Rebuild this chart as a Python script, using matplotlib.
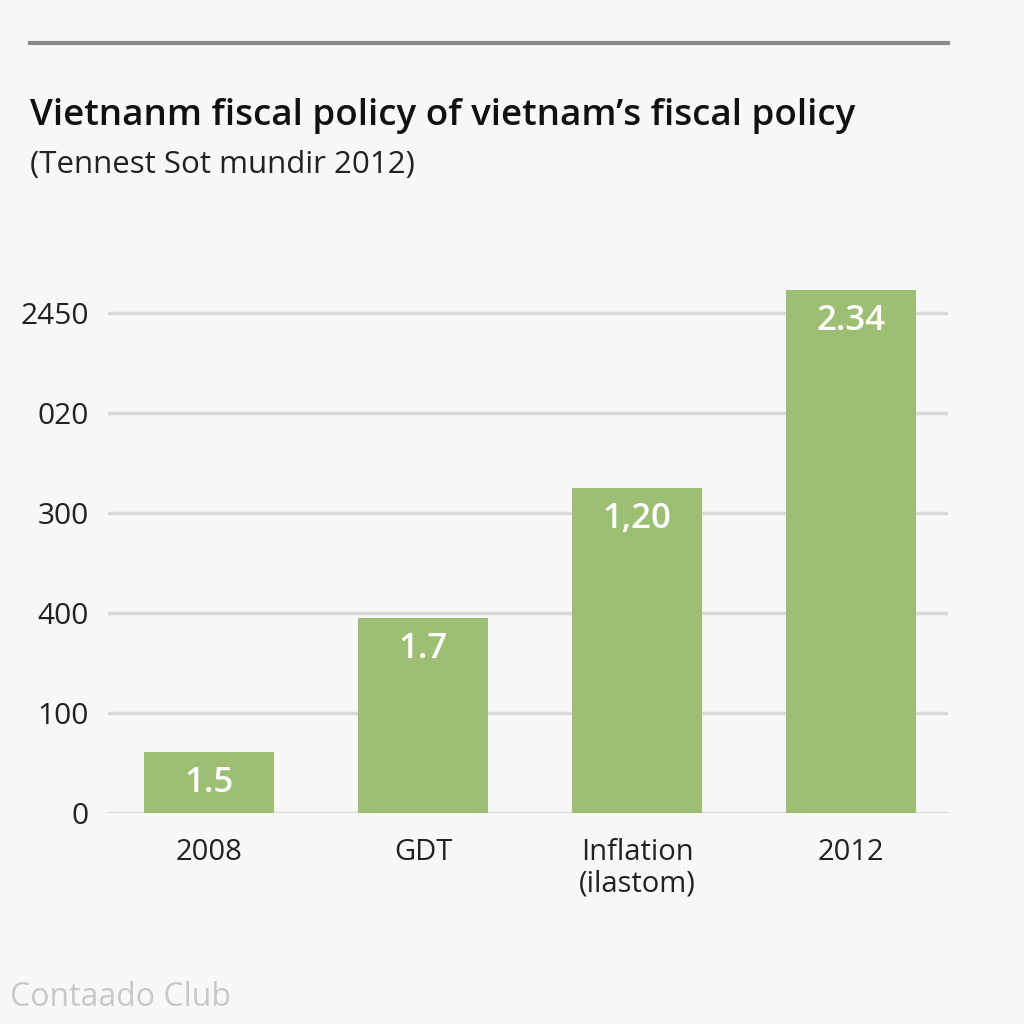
import matplotlib
matplotlib.use("Agg")
import matplotlib.pyplot as plt

categories = ["2008", "GDT", "Inflation\n(ilastom)", "2012"]
bar_heights = [0.61, 1.95, 3.25, 5.23]
bar_labels = ["1.5", "1.7", "1,20", "2.34"]
ytick_positions = [0, 1, 2, 3, 4, 5]
ytick_labels = ["0", "100", "400", "300", "020", "2450"]

title = "Vietnanm fiscal policy of vietnam\u2019s fiscal policy"
subtitle = "(Tennest Sot mundir 2012)"
watermark = "Contaado Club"

BG = "#f8f8f7"
BAR = "#9dbf74"
GRID = "#dadada"
TEXT = "#222222"

plt.rcParams["font.family"] = ["Open Sans", "DejaVu Sans"]

fig = plt.figure(figsize=(10.24, 10.24), dpi=100, facecolor=BG)
ax = fig.add_axes([108/1024, 1-813/1024, 840/1024, 530/1024], facecolor=BG)

x = list(range(len(categories)))
ax.bar(x, bar_heights, width=0.61, color=BAR, zorder=3)
for xi, h, lab in zip(x, bar_heights, bar_labels):
    ax.annotate(lab, (xi, h), xytext=(0, -31), textcoords="offset pixels",
                ha="center", va="center", color="white", fontsize=25,
                fontweight="semibold", zorder=4)

ax.set_xlim(-0.472, 3.453)
ax.set_ylim(0, 5.3)
ax.set_yticks(ytick_positions)
ax.set_yticklabels(ytick_labels)
ax.set_xticks(x)
ax.set_xticklabels(categories)
ax.tick_params(axis="y", length=0, pad=14, labelsize=21.5, labelcolor=TEXT)
ax.tick_params(axis="x", length=0, pad=18, labelsize=21, labelcolor=TEXT)
for lab in ax.get_xticklabels():
    lab.set_verticalalignment("top")
    lab.set_linespacing(1.1)
ax.yaxis.grid(True, color=GRID, linewidth=2.5, zorder=0)
ax.xaxis.grid(False)
for s in ax.spines.values():
    s.set_visible(False)

# top rule
fig.add_artist(plt.Line2D([30/1024, 948/1024], [1-43/1024, 1-43/1024],
                          color="#8a8a8a", linewidth=3, transform=fig.transFigure))

fig.text(30/1024, 1-116/1024, title, fontsize=26.5, fontweight="semibold",
         color="#111111", ha="left", va="center")
fig.text(30/1024, 1-165/1024, subtitle, fontsize=22.5, color=TEXT,
         ha="left", va="center")
fig.text(10/1024, 1-998/1024, watermark, fontsize=23, color="#c9c9c9",
         ha="left", va="center")

fig.savefig("out.png", dpi=100, facecolor=BG)
